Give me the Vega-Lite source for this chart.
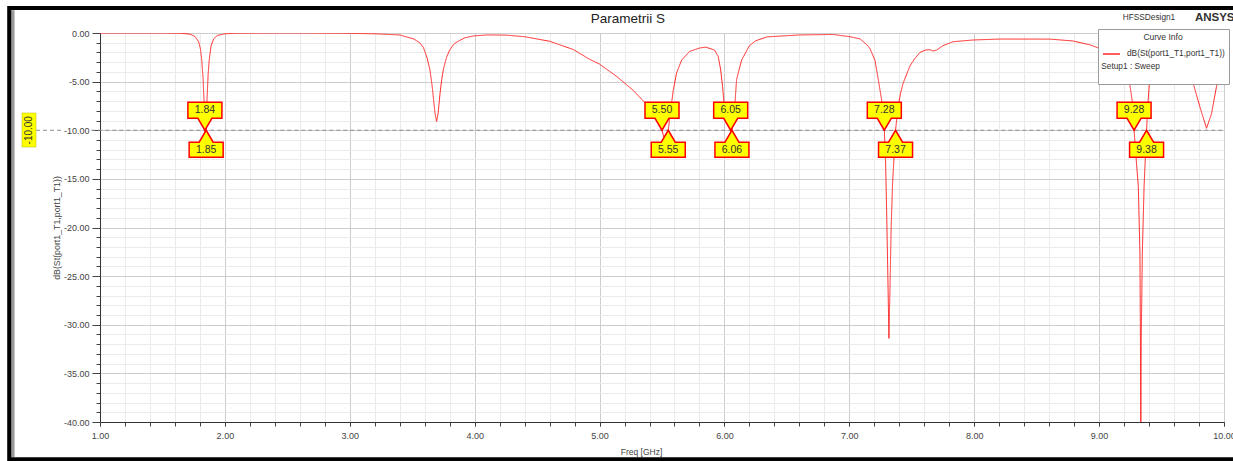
{
  "$schema": "https://vega.github.io/schema/vega-lite/v6.json",
  "width": 1124,
  "height": 389,
  "autosize": {"type": "none"},
  "padding": {"left": 100, "top": 33, "right": 9, "bottom": 39},
  "background": "#ffffff",
  "config": {
    "view": {"stroke": "#7a7a7a", "strokeWidth": 1},
    "axis": {"labelFont": "Liberation Sans", "titleFont": "Liberation Sans", "domainColor": "#333333", "tickColor": "#444444", "labelColor": "#444444", "titleColor": "#444444", "titleFontWeight": "normal"},
    "legend": {"labelFont": "Liberation Sans", "titleFont": "Liberation Sans"}
  },
  "datasets": {
    "s11": [
      {"f": 1.0, "db": 0}, {"f": 1.5, "db": 0}, {"f": 1.65, "db": -0.02}, {"f": 1.72, "db": -0.12},
      {"f": 1.76, "db": -0.35}, {"f": 1.79, "db": -0.9}, {"f": 1.805, "db": -1.7}, {"f": 1.815, "db": -2.8},
      {"f": 1.825, "db": -4.6}, {"f": 1.833, "db": -7.0}, {"f": 1.84, "db": -10.0}, {"f": 1.845, "db": -12.6},
      {"f": 1.85, "db": -10.0}, {"f": 1.857, "db": -6.8}, {"f": 1.866, "db": -4.2}, {"f": 1.876, "db": -2.6},
      {"f": 1.89, "db": -1.3}, {"f": 1.91, "db": -0.6}, {"f": 1.94, "db": -0.25}, {"f": 2.0, "db": -0.08},
      {"f": 2.1, "db": -0.02}, {"f": 2.5, "db": 0}, {"f": 2.9, "db": -0.02}, {"f": 3.2, "db": -0.08},
      {"f": 3.4, "db": -0.2}, {"f": 3.51, "db": -0.6}, {"f": 3.56, "db": -1.0}, {"f": 3.59, "db": -1.5},
      {"f": 3.62, "db": -2.6}, {"f": 3.642, "db": -3.8}, {"f": 3.66, "db": -5.5}, {"f": 3.672, "db": -7.0},
      {"f": 3.683, "db": -8.3}, {"f": 3.695, "db": -9.1}, {"f": 3.708, "db": -8.2}, {"f": 3.722, "db": -6.3},
      {"f": 3.736, "db": -4.8}, {"f": 3.75, "db": -3.7}, {"f": 3.775, "db": -2.5}, {"f": 3.8, "db": -1.75},
      {"f": 3.83, "db": -1.2}, {"f": 3.86, "db": -0.9}, {"f": 3.92, "db": -0.5}, {"f": 3.99, "db": -0.3},
      {"f": 4.1, "db": -0.2}, {"f": 4.25, "db": -0.22}, {"f": 4.4, "db": -0.38}, {"f": 4.6, "db": -0.85},
      {"f": 4.79, "db": -1.7}, {"f": 4.92, "db": -2.7}, {"f": 5.0, "db": -3.2}, {"f": 5.14, "db": -4.5},
      {"f": 5.27, "db": -5.9}, {"f": 5.38, "db": -7.4}, {"f": 5.45, "db": -8.6}, {"f": 5.5, "db": -10.0},
      {"f": 5.525, "db": -11.2}, {"f": 5.55, "db": -10.0}, {"f": 5.563, "db": -8.6}, {"f": 5.59, "db": -5.9},
      {"f": 5.617, "db": -4.1}, {"f": 5.657, "db": -2.8}, {"f": 5.72, "db": -1.9}, {"f": 5.8, "db": -1.55},
      {"f": 5.85, "db": -1.45}, {"f": 5.92, "db": -1.75}, {"f": 5.95, "db": -2.4}, {"f": 5.97, "db": -3.8},
      {"f": 5.985, "db": -5.5}, {"f": 5.996, "db": -7.1}, {"f": 6.03, "db": -8.8}, {"f": 6.05, "db": -10.0},
      {"f": 6.055, "db": -10.6}, {"f": 6.06, "db": -10.0}, {"f": 6.075, "db": -8.7}, {"f": 6.085, "db": -7.1},
      {"f": 6.097, "db": -4.8}, {"f": 6.137, "db": -2.8}, {"f": 6.2, "db": -1.3}, {"f": 6.25, "db": -0.8},
      {"f": 6.34, "db": -0.4}, {"f": 6.6, "db": -0.2}, {"f": 6.87, "db": -0.15}, {"f": 7.005, "db": -0.38},
      {"f": 7.085, "db": -0.6}, {"f": 7.14, "db": -1.2}, {"f": 7.165, "db": -1.6}, {"f": 7.205, "db": -2.8},
      {"f": 7.232, "db": -4.8}, {"f": 7.259, "db": -6.9}, {"f": 7.28, "db": -10.0}, {"f": 7.29, "db": -13.0},
      {"f": 7.3, "db": -19.2}, {"f": 7.31, "db": -26.1}, {"f": 7.317, "db": -31.4}, {"f": 7.325, "db": -26.5},
      {"f": 7.335, "db": -20.0}, {"f": 7.346, "db": -15.5}, {"f": 7.36, "db": -12.3}, {"f": 7.37, "db": -10.0},
      {"f": 7.39, "db": -7.6}, {"f": 7.41, "db": -6.2}, {"f": 7.43, "db": -5.2}, {"f": 7.46, "db": -4.2},
      {"f": 7.485, "db": -3.4}, {"f": 7.52, "db": -2.7}, {"f": 7.565, "db": -2.0}, {"f": 7.61, "db": -1.75},
      {"f": 7.645, "db": -1.72}, {"f": 7.672, "db": -1.85}, {"f": 7.7, "db": -1.75}, {"f": 7.75, "db": -1.3},
      {"f": 7.83, "db": -0.9}, {"f": 7.99, "db": -0.72}, {"f": 8.21, "db": -0.62}, {"f": 8.61, "db": -0.63},
      {"f": 8.79, "db": -0.82}, {"f": 8.93, "db": -1.23}, {"f": 9.006, "db": -1.6}, {"f": 9.06, "db": -2.2},
      {"f": 9.12, "db": -3.0}, {"f": 9.18, "db": -3.9}, {"f": 9.22, "db": -4.6}, {"f": 9.247, "db": -5.4},
      {"f": 9.273, "db": -7.7}, {"f": 9.28, "db": -10.0}, {"f": 9.3, "db": -13.5}, {"f": 9.314, "db": -15.8},
      {"f": 9.327, "db": -22.7}, {"f": 9.331, "db": -32.0}, {"f": 9.334, "db": -42.0}, {"f": 9.337, "db": -32.0},
      {"f": 9.346, "db": -22.7}, {"f": 9.36, "db": -15.8}, {"f": 9.38, "db": -10.0}, {"f": 9.39, "db": -7.4},
      {"f": 9.41, "db": -3.8}, {"f": 9.43, "db": -2.0}, {"f": 9.48, "db": -1.2}, {"f": 9.55, "db": -1.0},
      {"f": 9.63, "db": -1.6}, {"f": 9.7, "db": -3.0}, {"f": 9.754, "db": -5.2}, {"f": 9.807, "db": -7.6},
      {"f": 9.86, "db": -9.8}, {"f": 9.9, "db": -8.3}, {"f": 9.94, "db": -5.5}, {"f": 9.97, "db": -4.0},
      {"f": 10.0, "db": -3.0}
    ],
    "markers": [
      {"f": 1.84, "db": -10, "dir": "down"}, {"f": 1.85, "db": -10, "dir": "up"},
      {"f": 5.5, "db": -10, "dir": "down"}, {"f": 5.55, "db": -10, "dir": "up"},
      {"f": 6.05, "db": -10, "dir": "down"}, {"f": 6.06, "db": -10, "dir": "up"},
      {"f": 7.28, "db": -10, "dir": "down"}, {"f": 7.37, "db": -10, "dir": "up"},
      {"f": 9.28, "db": -10, "dir": "down"}, {"f": 9.38, "db": -10, "dir": "up"}
    ]
  },
  "resolve": {"axis": {"x": "independent", "y": "independent"}},
  "layer": [
    {
      "data": {"values": [{}]},
      "mark": {"type": "rule", "color": "#8c8c8c", "strokeDash": [4, 3], "strokeWidth": 1, "clip": false},
      "encoding": {
        "x": {"datum": 0.4876, "type": "quantitative", "axis": null},
        "x2": {"datum": 0.70},
        "y": {"datum": -10, "type": "quantitative", "axis": null}
      }
    },
    {
      "data": {"values": [{}]},
      "mark": {"type": "rule", "color": "#8c8c8c", "strokeDash": [4, 3], "strokeWidth": 1, "clip": false},
      "encoding": {
        "x": {"datum": 0.93, "type": "quantitative", "axis": null},
        "x2": {"datum": 10},
        "y": {"datum": -10, "type": "quantitative", "axis": null}
      }
    },
    {
      "data": {"name": "s11"},
      "mark": {"type": "line", "strokeWidth": 1, "clip": true, "interpolate": "linear"},
      "encoding": {
        "x": {
          "field": "f", "type": "quantitative",
          "scale": {"domain": [1, 10], "nice": false, "zero": false},
          "axis": {
            "orient": "bottom", "title": null, "labels": false,
            "values": [1,1.2,1.4,1.6,1.8,2,2.2,2.4,2.6,2.8,3,3.2,3.4,3.6,3.8,4,4.2,4.4,4.6,4.8,5,5.2,5.4,5.6,5.8,6,6.2,6.4,6.6,6.8,7,7.2,7.4,7.6,7.8,8,8.2,8.4,8.6,8.8,9,9.2,9.4,9.6,9.8,10],
            "tickSize": 4, "grid": true, "gridColor": "#ebebeb", "domain": true
          }
        },
        "y": {
          "field": "db", "type": "quantitative",
          "scale": {"domain": [-40, 0], "nice": false, "zero": false},
          "axis": {
            "orient": "left", "title": null, "labels": false,
            "values": [-40,-39,-38,-37,-36,-35,-34,-33,-32,-31,-30,-29,-28,-27,-26,-25,-24,-23,-22,-21,-20,-19,-18,-17,-16,-15,-14,-13,-12,-11,-10,-9,-8,-7,-6,-5,-4,-3,-2,-1,0],
            "tickSize": 4, "grid": true, "gridColor": "#ebebeb", "domain": true
          }
        },
        "stroke": {
          "datum": "dB(St(port1_T1,port1_T1))",
          "scale": {"domain": ["dB(St(port1_T1,port1_T1))", " "], "range": ["#ff2626", "transparent"]},
          "legend": {
            "title": "Curve Info", "orient": "none", "legendX": 998, "legendY": -4, "direction": "vertical",
            "fillColor": "#ffffff", "strokeColor": "#9a9a9a", "padding": 4,
            "titleAnchor": "middle", "titleFontSize": 8.5, "titleFontWeight": "normal", "titleColor": "#333333", "titlePadding": 3,
            "labelFontSize": 8.3, "labelColor": "#333333", "labelOffset": 6, "labelLimit": 300,
            "symbolType": "stroke", "symbolSize": 289, "symbolStrokeWidth": 1.5, "rowPadding": 9
          }
        },
        "strokeDash": {
          "datum": "Setup1 : Sweep",
          "scale": {"range": [[1, 0]]},
          "legend": {
            "title": null, "orient": "none", "legendX": 993, "legendY": 30, "padding": 0,
            "symbolOpacity": 0, "symbolSize": 1, "symbolStrokeWidth": 0, "labelOffset": 0,
            "labelFontSize": 8.3, "labelColor": "#333333", "labelLimit": 300
          }
        }
      }
    },
    {
      "data": {"name": "markers"},
      "mark": {"type": "point", "filled": true, "fill": "#ffff00", "stroke": "#ff0000", "strokeWidth": 1.5, "opacity": 1, "size": 4, "clip": false},
      "encoding": {
        "x": {
          "field": "f", "type": "quantitative",
          "scale": {"domain": [1, 10], "nice": false, "zero": false},
          "axis": {
            "orient": "bottom", "values": [1,2,3,4,5,6,7,8,9,10],
            "labelExpr": "format(datum.value, '.2f')", "labelFontSize": 9, "labelPadding": 5,
            "labelFlush": false, "labelOverlap": false, "tickSize": 4,
            "grid": true, "gridColor": "#cdcdcd", "domain": false,
            "title": "Freq [GHz]", "titleFontSize": 8.5, "titlePadding": 7, "titleX": 541
          }
        },
        "y": {
          "field": "db", "type": "quantitative",
          "scale": {"domain": [-40, 0], "nice": false, "zero": false},
          "axis": {
            "orient": "left", "values": [-40,-35,-30,-25,-20,-15,-10,-5,0],
            "labelExpr": "(datum.value < 0 ? '-' : '') + format(abs(datum.value), '.2f')",
            "labelFontSize": 9, "labelPadding": 3, "labelFlush": false, "labelOverlap": false,
            "tickSize": 8, "grid": true, "gridColor": "#cdcdcd", "domain": false,
            "title": "dB(St(port1_T1,port1_T1))", "titleFontSize": 8.8, "titlePadding": 2
          }
        },
        "shape": {
          "field": "dir", "type": "nominal",
          "scale": {
            "domain": ["down", "up"],
            "range": ["M0,0L-7,-12L-17,-12L-17,-28L17,-28L17,-12L7,-12Z", "M0,0L7,12L17,12L17,27L-17,27L-17,12L-7,12Z"]
          },
          "legend": null
        }
      }
    },
    {
      "data": {"name": "markers"},
      "transform": [{"filter": "datum.dir === 'down'"}],
      "mark": {"type": "text", "dy": -20, "font": "Liberation Sans", "fontSize": 10.5, "color": "#333333", "align": "center", "baseline": "middle", "clip": false},
      "encoding": {
        "x": {"field": "f", "type": "quantitative", "axis": null},
        "y": {"field": "db", "type": "quantitative", "axis": null},
        "text": {"field": "f", "type": "quantitative", "format": ".2f"}
      }
    },
    {
      "data": {"name": "markers"},
      "transform": [{"filter": "datum.dir === 'up'"}],
      "mark": {"type": "text", "dy": 20, "font": "Liberation Sans", "fontSize": 10.5, "color": "#333333", "align": "center", "baseline": "middle", "clip": false},
      "encoding": {
        "x": {"field": "f", "type": "quantitative", "axis": null},
        "y": {"field": "db", "type": "quantitative", "axis": null},
        "text": {"field": "f", "type": "quantitative", "format": ".2f"}
      }
    },
    {
      "data": {"values": [{}]},
      "mark": {"type": "rect", "fill": "#ffff00", "stroke": "#b8b800", "strokeWidth": 0.5, "clip": false},
      "encoding": {
        "x": {"datum": 0.3755, "type": "quantitative", "axis": null},
        "x2": {"datum": 0.4876},
        "y": {"datum": -8.226, "type": "quantitative", "axis": null},
        "y2": {"datum": -11.722}
      }
    },
    {
      "data": {"values": [{"level": "-10.00"}]},
      "mark": {"type": "text", "angle": 270, "font": "Liberation Sans", "fontSize": 10, "color": "#333333", "align": "center", "baseline": "middle", "clip": false},
      "encoding": {
        "x": {"datum": 0.4316, "type": "quantitative", "axis": null},
        "y": {"datum": -10, "type": "quantitative", "axis": null},
        "text": {"field": "level"}
      }
    },
    {
      "data": {"values": [{"name": "Parametrii S"}]},
      "mark": {"type": "text", "font": "Liberation Sans", "fontSize": 13.5, "color": "#222222", "align": "center", "baseline": "alphabetic", "clip": false},
      "encoding": {
        "x": {"datum": 5.2274, "type": "quantitative", "axis": null},
        "y": {"datum": 1.0, "type": "quantitative", "axis": null},
        "text": {"field": "name"}
      }
    },
    {
      "data": {"values": [{"name": "HFSSDesign1"}]},
      "mark": {"type": "text", "font": "Liberation Sans", "fontSize": 8.3, "color": "#333333", "align": "center", "baseline": "middle", "clip": false},
      "encoding": {
        "x": {"datum": 9.399, "type": "quantitative", "axis": null},
        "y": {"datum": 1.54, "type": "quantitative", "axis": null},
        "text": {"field": "name"}
      }
    },
    {
      "data": {"values": [{"name": "ANSYS"}]},
      "mark": {"type": "text", "font": "Liberation Sans", "fontSize": 11.5, "fontWeight": "bold", "color": "#333333", "align": "left", "baseline": "middle", "clip": false},
      "encoding": {
        "x": {"datum": 9.767, "type": "quantitative", "axis": null},
        "y": {"datum": 1.54, "type": "quantitative", "axis": null},
        "text": {"field": "name"}
      }
    },
    {
      "data": {"values": [{}]},
      "mark": {"type": "rule", "color": "#9a9a9a", "strokeWidth": 4, "clip": false},
      "encoding": {
        "x": {"datum": 0.300, "type": "quantitative", "axis": null},
        "y": {"datum": 2.35, "type": "quantitative", "axis": null},
        "y2": {"datum": -43.6}
      }
    },
    {
      "data": {"values": [{}]},
      "mark": {"type": "rect", "fill": "transparent", "stroke": "#000000", "strokeWidth": 4, "clip": false},
      "encoding": {
        "x": {"datum": 0.273, "type": "quantitative", "axis": null},
        "x2": {"datum": 10.3},
        "y": {"datum": 2.57, "type": "quantitative", "axis": null},
        "y2": {"datum": -43.84}
      }
    }
  ]
}
